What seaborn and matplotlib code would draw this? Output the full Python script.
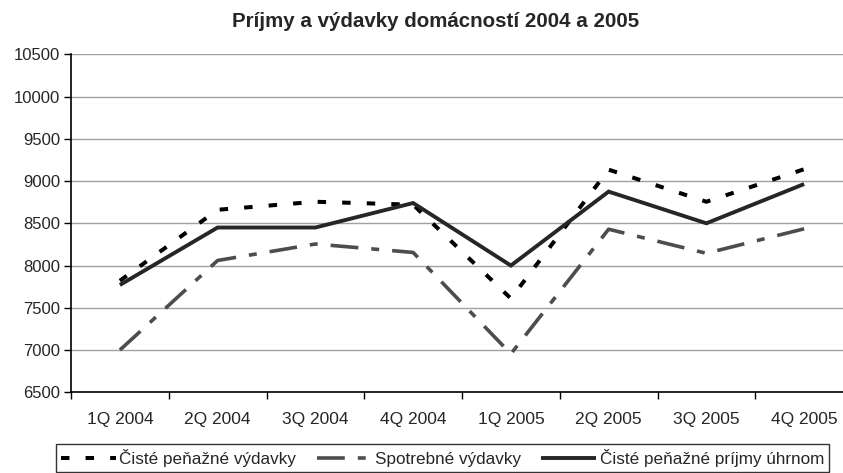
import matplotlib
matplotlib.use("Agg")
import matplotlib.pyplot as plt
import seaborn as sns
import numpy as np
import pandas as pd

categories = ["1Q 2004", "2Q 2004", "3Q 2004", "4Q 2004", "1Q 2005", "2Q 2005", "3Q 2005", "4Q 2005"]
vydavky = [7820, 8660, 8755, 8720, 7610, 9135, 8755, 9140]
spotrebne = [7000, 8060, 8255, 8155, 6955, 8430, 8145, 8435]
prijmy = [7770, 8450, 8450, 8740, 8000, 8875, 8500, 8965]
names = ["Čisté peňažné výdavky", "Spotrebné výdavky", "Čisté peňažné príjmy úhrnom"]
yticks = [6500, 7000, 7500, 8000, 8500, 9000, 9500, 10000, 10500]

sns.set_theme(style="white")
plt.rcParams["font.family"] = ["Liberation Sans", "DejaVu Sans"]

fig = plt.figure(figsize=(8.43, 4.73), dpi=100)
ax = fig.add_axes([71 / 843, (473 - 392.3) / 473, (853 - 71) / 843, 338 / 473])

idx = np.arange(len(categories))
series = [vydavky, spotrebne, prijmy]
colors = ["#000000", "#4d4d4d", "#262626"]
widths = [2.9, 2.6, 2.8]
dashes = [(2.1, 4.0), (7.7, 3.6, 2.2, 3.6), None]

for vals, name, col, lw, d in zip(series, names, colors, widths, dashes):
    df = pd.DataFrame({"x": idx, "y": vals})
    sns.lineplot(data=df, x="x", y="y", ax=ax, color=col, linewidth=lw, label=name)
    line = ax.lines[-1]
    line.set_solid_capstyle("butt")
    line.set_dash_capstyle("butt")
    line.set_solid_joinstyle("miter")
    if d is not None:
        line.set_dashes(d)

ax.set_xlim(-0.5, len(categories) - 0.5)
ax.set_ylim(6500, 10500)
ax.set_yticks(yticks)
ax.set_yticklabels([str(t) for t in yticks], fontsize=12)
ax.set_xticks(idx)
ax.set_xticklabels(categories, fontsize=12.5)
ax.set_xticks(np.arange(-0.5, len(categories), 1.0), minor=True)
ax.tick_params(axis="x", which="major", length=0, pad=14)
ax.tick_params(axis="x", which="minor", length=5, width=1, color="#000000", direction="out", bottom=True)
ax.tick_params(axis="y", length=5, width=1, color="#000000", direction="out", left=True, pad=3)
ax.set_xlabel("")
ax.set_ylabel("")
ax.grid(axis="y", color="#a0a0a0", linewidth=1)
ax.set_axisbelow(True)
for s in ["top", "right"]:
    ax.spines[s].set_visible(False)
for s in ["left", "bottom"]:
    ax.spines[s].set_color("#000000")
    ax.spines[s].set_linewidth(1.2)

fig.text(436 / 843, 1 - 21 / 473, "Príjmy a výdavky domácností 2004 a 2005",
         ha="center", va="center", fontsize=14.8, fontweight="bold")

ax.get_legend().remove()
leg = fig.legend(*ax.get_legend_handles_labels(), loc="center", ncol=3,
                 bbox_to_anchor=(442.5 / 843, 1 - 458 / 473), bbox_transform=fig.transFigure,
                 frameon=True, fancybox=False, fontsize=12.3, handlelength=3.2,
                 handletextpad=0.2, columnspacing=1.2, borderpad=0.3, borderaxespad=0)
leg.get_frame().set_edgecolor("#000000")
leg.get_frame().set_linewidth(1)

fig.savefig("out.png", dpi=100)
